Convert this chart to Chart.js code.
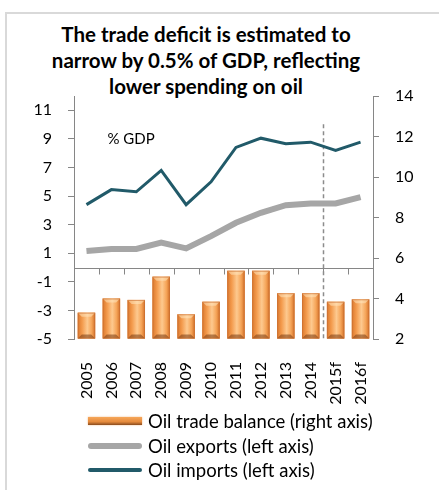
<!DOCTYPE html>
<html>
<head>
<meta charset="utf-8">
<script src="https://cdn.jsdelivr.net/npm/chart.js@4.4.1/dist/chart.umd.min.js"></script>
<style>
  html, body { margin: 0; padding: 0; background: #fff; }
  body { width: 439px; height: 490px; position: relative; overflow: hidden; font-family: Lato, "Open Sans", sans-serif; }
  .frame { position: absolute; left: 5px; top: 12px; width: 600px; height: 600px; border: 2px solid #d9d9d9; }
  .title { position: absolute; left: 0; width: 412px; top: 21px; text-align: center; font-weight: bold; font-size: 20.5px; line-height: 26px; color: #000; }
  #wrap { position: absolute; left: 0; top: 0; width: 439px; height: 490px; }
  .legend { position: absolute; left: 88px; top: 409px; font-size: 18.5px; color: #000; }
  .legend div { height: 24.5px; line-height: 24px; display: flex; align-items: center; }
  .legend span.sw { display: inline-block; width: 54px; margin-right: 6px; }
</style>
</head>
<body>
<div class="frame"></div>
<div class="title">The trade deficit is estimated to<br>narrow by 0.5% of GDP, reflecting<br>lower spending on oil</div>
<div id="wrap"><canvas id="chart"></canvas></div>
<div class="legend">
  <div><span class="sw" style="height:8px;background:linear-gradient(#f6a75a,#e58a3c 60%,#8a4a1c);box-shadow:0 0 2px #f0b27a"></span>Oil trade balance (right axis)</div>
  <div><span class="sw" style="height:6px;border-radius:3px;background:#a6a6a6"></span>Oil exports (left axis)</div>
  <div><span class="sw" style="height:4px;border-radius:2px;background:#215a69"></span>Oil imports (left axis)</div>
</div>
<script>
// years on the category axis
const years = ['2005', '2006', '2007', '2008', '2009', '2010', '2011', '2012', '2013', '2014', '2015f', '2016f'];
// oil trade balance, right axis
const tradeBalance = [3.3, 4.0, 3.93, 5.08, 3.22, 3.84, 5.37, 5.37, 4.26, 4.26, 3.84, 3.96];
// oil exports and imports, % GDP, left axis
const oilExports = [1.15, 1.3, 1.3, 1.74, 1.34, 2.2, 3.13, 3.83, 4.36, 4.48, 4.48, 4.92];
const oilImports = [4.4, 5.45, 5.3, 6.8, 4.4, 6.0, 8.4, 9.05, 8.66, 8.77, 8.2, 8.77];
// axis ticks
const leftTicks = [-5, -3, -1, 1, 3, 5, 7, 9, 11];
const rightTicks = [2, 4, 6, 8, 10, 12, 14];

const axisGray = '#868686';
const tickFont = { family: 'Lato', size: 16 };

// bevel shading on top of the flat orange bars
const barBevel = {
  id: 'barBevel',
  afterDatasetDraw(chart, args) {
    if (args.index !== 0) return;
    const ctx = chart.ctx;
    args.meta.data.forEach(bar => {
      const x0 = bar.x - bar.width / 2, x1 = bar.x + bar.width / 2;
      const top = bar.y, base = bar.base;
      const b = 4;
      ctx.save();
      const g = ctx.createLinearGradient(x0, 0, x1, 0);
      g.addColorStop(0, '#d9782e');
      g.addColorStop(0.25, '#f39a4c');
      g.addColorStop(0.55, '#fdc98f');
      g.addColorStop(0.8, '#f5a458');
      g.addColorStop(1, '#d27029');
      ctx.fillStyle = g;
      ctx.fillRect(x0, top, x1 - x0, base - top);
      // bottom bevel
      ctx.fillStyle = 'rgba(120,60,20,0.55)';
      ctx.beginPath();
      ctx.moveTo(x0, base); ctx.lineTo(x1, base);
      ctx.lineTo(x1 - b, base - b); ctx.lineTo(x0 + b, base - b);
      ctx.closePath(); ctx.fill();
      // top bevel
      ctx.fillStyle = 'rgba(255,230,190,0.55)';
      ctx.beginPath();
      ctx.moveTo(x0, top); ctx.lineTo(x1, top);
      ctx.lineTo(x1 - b, top + b); ctx.lineTo(x0 + b, top + b);
      ctx.closePath(); ctx.fill();
      ctx.strokeStyle = 'rgba(200,110,50,0.6)';
      ctx.lineWidth = 1;
      ctx.strokeRect(x0 + 0.5, top + 0.5, x1 - x0 - 1, base - top - 1);
      ctx.restore();
    });
  }
};

// category axis line at zero on the left scale, forecast divider, unit label and year labels
const extras = {
  id: 'extras',
  beforeDatasetsDraw(chart) {
    const { ctx, chartArea } = chart;
    const x = chart.scales.x, y = chart.scales.y, y1 = chart.scales.y1;
    const zero = Math.round(y.getPixelForValue(0)) + 0.5;
    ctx.save();
    ctx.strokeStyle = axisGray;
    ctx.lineWidth = 1;
    ctx.beginPath();
    ctx.moveTo(chartArea.left, zero);
    ctx.lineTo(chartArea.right, zero);
    for (let i = 1; i < years.length; i++) {
      const px = Math.round((x.getPixelForValue(i - 1) + x.getPixelForValue(i)) / 2) + 0.5;
      ctx.moveTo(px, zero);
      ctx.lineTo(px, zero + 6);
    }
    ctx.stroke();

    // dashed line between actuals and forecasts
    const dx = Math.round((x.getPixelForValue(9) + x.getPixelForValue(10)) / 2) + 0.5;
    ctx.strokeStyle = '#8c8c8c';
    ctx.lineWidth = 1.5;
    ctx.setLineDash([4, 3]);
    ctx.beginPath();
    ctx.moveTo(dx, y1.getPixelForValue(12.6));
    ctx.lineTo(dx, chartArea.bottom);
    ctx.stroke();
    ctx.setLineDash([]);

    ctx.fillStyle = '#000';
    ctx.font = '15px Lato';
    ctx.textBaseline = 'middle';
    ctx.fillText('% GDP', x.getPixelForValue(0) + 21, y.getPixelForValue(9));
    ctx.restore();
  },
  afterDraw(chart) {
    const { ctx, chartArea } = chart;
    const x = chart.scales.x;
    ctx.save();
    ctx.fillStyle = '#000';
    ctx.font = '16px Lato';
    ctx.textAlign = 'right';
    ctx.textBaseline = 'middle';
    years.forEach((label, i) => {
      ctx.save();
      ctx.translate(x.getPixelForValue(i), chartArea.bottom + 23);
      ctx.rotate(-Math.PI / 2);
      ctx.fillText(label, 0, 0);
      ctx.restore();
    });
    ctx.restore();
  }
};

new Chart(document.getElementById('chart'), {
  type: 'bar',
  data: {
    labels: years,
    datasets: [
      {
        type: 'bar',
        label: 'Oil trade balance (right axis)',
        data: tradeBalance,
        yAxisID: 'y1',
        base: 2,
        backgroundColor: '#f0984a',
        categoryPercentage: 1,
        barPercentage: 0.7,
        order: 3
      },
      {
        type: 'line',
        label: 'Oil exports (left axis)',
        data: oilExports,
        yAxisID: 'y',
        borderColor: '#a6a6a6',
        borderWidth: 6,
        pointRadius: 0,
        tension: 0,
        order: 2
      },
      {
        type: 'line',
        label: 'Oil imports (left axis)',
        data: oilImports,
        yAxisID: 'y',
        borderColor: '#215a69',
        borderWidth: 3,
        pointRadius: 0,
        tension: 0,
        order: 1
      }
    ]
  },
  options: {
    responsive: true,
    maintainAspectRatio: false,
    animation: false,
    layout: { padding: { top: 96, left: 0, right: 0, bottom: 0 } },
    plugins: { legend: { display: false }, tooltip: { enabled: false }, title: { display: false } },
    scales: {
      x: {
        offset: true,
        grid: { display: false },
        border: { display: false },
        ticks: { display: false },
        afterFit(s) { s.height = 151; }
      },
      y: {
        position: 'left',
        min: -5,
        max: 12,
        afterBuildTicks(s) { s.ticks = leftTicks.map(v => ({ value: v })); },
        grid: { drawOnChartArea: false, color: axisGray, tickLength: 6 },
        border: { color: axisGray, width: 1 },
        ticks: { color: '#000', font: tickFont, padding: 16 },
        afterFit(s) { s.width = 74; }
      },
      y1: {
        position: 'right',
        min: 2,
        max: 14,
        afterBuildTicks(s) { s.ticks = rightTicks.map(v => ({ value: v })); },
        grid: { drawOnChartArea: false, color: axisGray, tickLength: 6 },
        border: { color: axisGray, width: 1 },
        ticks: { color: '#000', font: tickFont, padding: 16 },
        afterFit(s) { s.width = 66; }
      }
    }
  },
  plugins: [barBevel, extras]
});
</script>
</body>
</html>
